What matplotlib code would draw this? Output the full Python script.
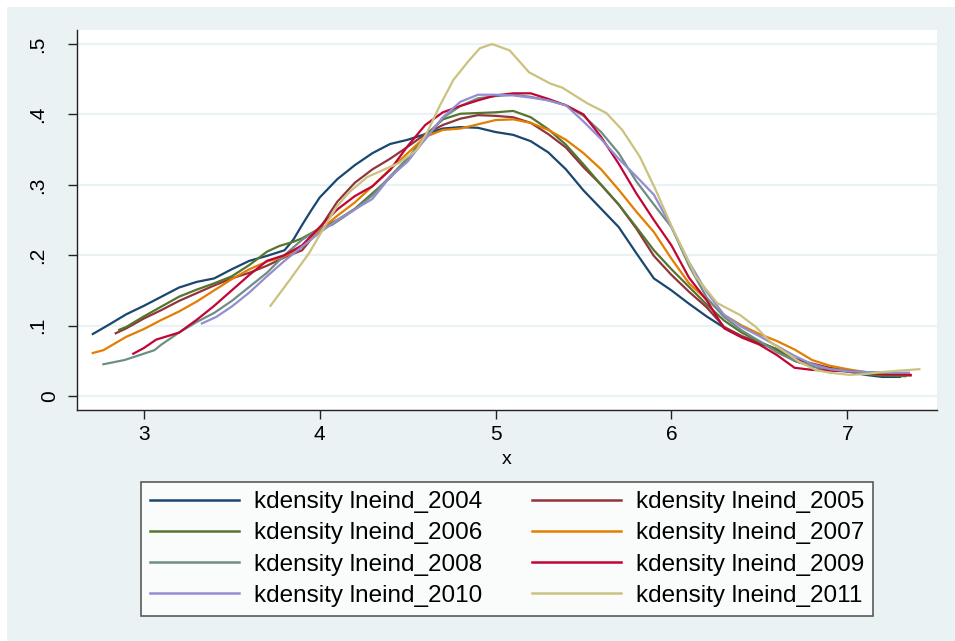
import matplotlib
matplotlib.use('Agg')
import matplotlib.pyplot as plt
from matplotlib.patches import Rectangle

plt.rcParams['font.family'] = ['Liberation Sans', 'DejaVu Sans']

# kernel density estimates of lneind, one curve per year
x_2004 = [2.71, 2.8, 2.9, 3.0, 3.1, 3.2, 3.3, 3.4, 3.5, 3.6, 3.7, 3.8, 3.85, 3.9, 3.95, 4.0, 4.1, 4.2, 4.3, 4.4,
          4.5, 4.6, 4.7, 4.8, 4.9, 5.0, 5.1, 5.2, 5.3, 5.4, 5.5, 5.6, 5.7, 5.8, 5.9, 6.0, 6.1, 6.2, 6.3, 6.4,
          6.5, 6.6, 6.7, 6.8, 6.9, 7.0, 7.1, 7.2, 7.3]
y_2004 = [.088, .101, .116, .128, .141, .154, .162, .167, .180, .192, .199, .207, .222, .243, .263, .282, .308,
          .328, .345, .358, .364, .372, .380, .382, .381, .375, .371, .362, .346, .322, .292, .266, .240, .203,
          .167, .150, .131, .113, .097, .084, .075, .066, .050, .042, .037, .035, .030, .027, .027]

x_2005 = [2.84, 2.9, 3.0, 3.1, 3.2, 3.3, 3.4, 3.5, 3.6, 3.7, 3.8, 3.9, 4.0, 4.1, 4.2, 4.3, 4.4, 4.5, 4.6, 4.7,
          4.8, 4.9, 5.0, 5.1, 5.2, 5.3, 5.4, 5.5, 5.6, 5.7, 5.8, 5.9, 6.0, 6.1, 6.2, 6.3, 6.4, 6.5, 6.6, 6.7,
          6.8, 6.9, 7.0, 7.1, 7.2, 7.36]
y_2005 = [.089, .096, .110, .122, .135, .146, .157, .167, .175, .185, .197, .207, .238, .276, .303, .322, .337,
          .354, .372, .385, .394, .399, .398, .396, .388, .372, .353, .325, .300, .272, .238, .199, .172, .148,
          .126, .098, .085, .076, .066, .053, .046, .040, .036, .032, .029, .029]

x_2006 = [2.86, 2.9, 3.0, 3.1, 3.2, 3.3, 3.4, 3.5, 3.6, 3.7, 3.77, 3.85, 3.9, 4.0, 4.1, 4.2, 4.3, 4.4, 4.5, 4.6,
          4.7, 4.8, 4.9, 5.0, 5.1, 5.2, 5.3, 5.4, 5.5, 5.6, 5.7, 5.8, 5.9, 6.0, 6.1, 6.2, 6.3, 6.4, 6.5, 6.6,
          6.7, 6.8, 6.9, 7.0, 7.1, 7.2, 7.33]
y_2006 = [.094, .098, .113, .127, .141, .151, .160, .170, .186, .205, .213, .219, .224, .238, .250, .266, .288,
          .310, .337, .370, .393, .401, .402, .403, .405, .396, .379, .357, .329, .300, .272, .240, .207, .180,
          .155, .130, .107, .090, .077, .066, .050, .042, .038, .035, .031, .029, .028]

x_2007 = [2.71, 2.77, 2.9, 3.0, 3.1, 3.2, 3.3, 3.4, 3.5, 3.6, 3.7, 3.8, 3.9, 4.0, 4.1, 4.2, 4.3, 4.4, 4.5, 4.6,
          4.7, 4.8, 4.9, 5.0, 5.1, 5.2, 5.3, 5.4, 5.5, 5.6, 5.7, 5.8, 5.9, 6.0, 6.1, 6.2, 6.3, 6.4, 6.5, 6.6,
          6.7, 6.8, 6.9, 7.0, 7.1, 7.2, 7.35]
y_2007 = [.061, .065, .084, .095, .108, .120, .134, .150, .166, .180, .191, .198, .212, .235, .256, .275, .298,
          .322, .345, .368, .378, .380, .386, .392, .393, .388, .378, .364, .345, .322, .293, .262, .233, .195,
          .160, .137, .115, .100, .088, .078, .066, .051, .043, .038, .034, .032, .030]

x_2008 = [2.77, 2.89, 3.0, 3.06, 3.1, 3.2, 3.3, 3.4, 3.5, 3.6, 3.7, 3.8, 3.9, 4.0, 4.07, 4.1, 4.2, 4.3, 4.4, 4.5,
          4.6, 4.7, 4.8, 4.9, 5.0, 5.1, 5.2, 5.3, 5.4, 5.5, 5.6, 5.7, 5.8, 5.9, 6.0, 6.1, 6.2, 6.3, 6.4, 6.5,
          6.6, 6.7, 6.8, 6.9, 7.0, 7.1, 7.2, 7.35]
y_2008 = [.045, .051, .060, .065, .073, .090, .105, .118, .135, .155, .175, .200, .222, .238, .243, .248, .265,
          .285, .312, .338, .365, .395, .412, .423, .426, .428, .425, .420, .413, .398, .375, .345, .305, .272,
          .240, .185, .140, .112, .093, .078, .062, .050, .042, .038, .036, .034, .033, .032]

x_2009 = [2.94, 3.0, 3.07, 3.2, 3.3, 3.4, 3.5, 3.6, 3.7, 3.8, 3.9, 4.0, 4.1, 4.2, 4.3, 4.4, 4.5, 4.6, 4.7, 4.8,
          4.9, 5.0, 5.1, 5.2, 5.3, 5.4, 5.5, 5.6, 5.7, 5.8, 5.9, 6.0, 6.1, 6.2, 6.3, 6.4, 6.5, 6.6, 6.7, 6.8,
          6.9, 7.0, 7.1, 7.2, 7.36]
y_2009 = [.060, .068, .080, .090, .108, .128, .150, .172, .192, .200, .214, .240, .265, .284, .298, .321, .355,
          .385, .403, .412, .420, .427, .430, .430, .422, .413, .400, .368, .330, .288, .250, .214, .168, .136,
          .096, .083, .073, .058, .040, .037, .036, .035, .033, .031, .030]

x_2010 = [3.33, 3.41, 3.5, 3.6, 3.7, 3.8, 3.9, 4.0, 4.1, 4.2, 4.3, 4.4, 4.5, 4.6, 4.7, 4.8, 4.9, 5.0, 5.1, 5.2,
          5.3, 5.4, 5.5, 5.6, 5.7, 5.8, 5.9, 6.0, 6.1, 6.2, 6.3, 6.4, 6.5, 6.6, 6.7, 6.8, 6.9, 7.0, 7.1, 7.2,
          7.35]
y_2010 = [.103, .112, .127, .147, .170, .192, .212, .232, .250, .265, .280, .311, .333, .365, .396, .418, .428,
          .428, .427, .424, .420, .413, .390, .365, .337, .312, .286, .240, .190, .148, .115, .098, .085, .071,
          .057, .045, .038, .035, .034, .033, .033]

x_2011 = [3.72, 3.83, 3.94, 4.04, 4.1, 4.17, 4.27, 4.36, 4.45, 4.55, 4.61, 4.68, 4.76, 4.84, 4.91, 4.98, 5.08,
          5.19, 5.31, 5.38, 5.52, 5.63, 5.72, 5.82, 5.91, 6.01, 6.14, 6.26, 6.39, 6.48, 6.57, 6.63, 6.73, 6.82,
          6.9, 7.01, 7.1, 7.2, 7.3, 7.41]
y_2011 = [.128, .165, .203, .246, .270, .290, .311, .321, .331, .349, .374, .411, .449, .474, .494, .500, .491,
          .460, .444, .438, .416, .402, .378, .340, .293, .236, .169, .132, .115, .098, .075, .065, .048, .037,
          .033, .030, .031, .034, .036, .038]

years = [2004, 2005, 2006, 2007, 2008, 2009, 2010, 2011]
xs = [x_2004, x_2005, x_2006, x_2007, x_2008, x_2009, x_2010, x_2011]
ys = [y_2004, y_2005, y_2006, y_2007, y_2008, y_2009, y_2010, y_2011]
# s2color palette
colors = ['#1a476f', '#90353b', '#55752f', '#e37e00', '#6e8e84', '#c10534', '#938dd2', '#cac27e']

x_ticks = [3, 4, 5, 6, 7]
y_ticks = [0, .1, .2, .3, .4, .5]
y_ticklabels = ['0', '.1', '.2', '.3', '.4', '.5']

bg = '#eaf2f3'
W, H = 955, 641
fig = plt.figure(figsize=(W / 100, H / 100), dpi=100)
fig.patch.set_facecolor('white')
fig.add_artist(Rectangle((7 / W, 0), 1, 1 - 7 / H, transform=fig.transFigure,
                         facecolor=bg, edgecolor='none', zorder=-10))

ax = fig.add_axes([77 / W, 1 - 410 / H, 860 / W, 380 / H])
ax.set_facecolor('white')

lines = []
for yr, x, y, c in zip(years, xs, ys, colors):
    ln, = ax.plot(x, y, color=c, lw=1.6, label=f'kdensity lneind_{yr}', solid_joinstyle='round')
    lines.append(ln)

ax.set_xlim(2.62, 7.51)
ax.set_ylim(-0.02, 0.52)
ax.set_xticks(x_ticks)
ax.set_yticks(y_ticks)
ax.set_yticklabels([])
ax.grid(axis='y', color=bg, lw=1.6)
ax.set_axisbelow(True)
for s in ['top', 'right']:
    ax.spines[s].set_visible(False)
for s in ['left', 'bottom']:
    ax.spines[s].set_color('#222222')
    ax.spines[s].set_linewidth(1.0)
ax.tick_params(axis='both', length=6.5, width=1.0, color='#222222', labelsize=15)
ax.tick_params(axis='x', pad=4)
ax.set_xlabel('x', fontsize=14, labelpad=5)

# vertical y labels; the plain "0" sits a little closer to the axis
ytr = ax.get_yaxis_transform()
for v, lab in zip(y_ticks, y_ticklabels):
    right_px = 59 if lab == '0' else 47
    ax.text((right_px - 77) / 860, v, lab, transform=ytr, rotation=90,
            ha='right', va='center', fontsize=15, color='black')

# legend is filled row by row: 2004 2005 / 2006 2007 / ...
order = [0, 2, 4, 6, 1, 3, 5, 7]
leg = fig.legend([lines[i] for i in order], [lines[i].get_label() for i in order],
                 ncol=2, loc='upper center', bbox_to_anchor=(507 / W, 1 - 482 / H),
                 fontsize=17.5, handlelength=3.66, handletextpad=0.62, columnspacing=2.02,
                 labelspacing=0.37, borderpad=0.39, borderaxespad=0, fancybox=False)
leg.get_frame().set_edgecolor('#333333')
leg.get_frame().set_linewidth(1.2)
for h in leg.get_lines():
    h.set_linewidth(1.8)

fig.savefig('out.png', dpi=100, facecolor=fig.get_facecolor())
